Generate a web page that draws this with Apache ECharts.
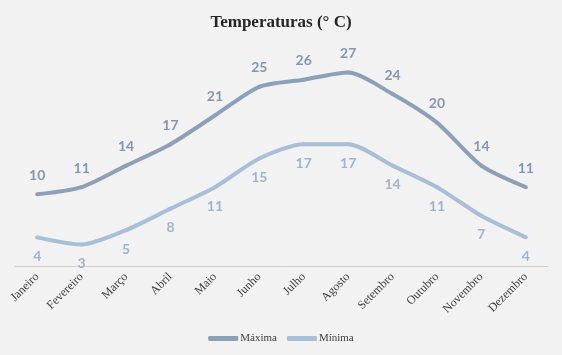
<!DOCTYPE html>
<html><head><meta charset="utf-8">
<script src="https://cdn.jsdelivr.net/npm/echarts@6/dist/echarts.min.js"></script>
<style>html,body{margin:0;padding:0;background:#f2f2f2}#c{width:562px;height:355px}</style>
</head><body><div id="c"></div>
<script>
const categories = ["Janeiro","Fevereiro","Março","Abril","Maio","Junho","Julho","Agosto","Setembro","Outubro","Novembro","Dezembro"];
const maxima = [10,11,14,17,21,25,26,27,24,20,14,11];
const minima = [4,3,5,8,11,15,17,17,14,11,7,4];
const seriesNames = ["Máxima","Mínima"];

const chart = echarts.init(document.getElementById('c'));
chart.setOption({
  backgroundColor:'#f2f2f2',
  animation:false,
  title:{text:'Temperaturas (° C)',left:'center',top:9,
    textStyle:{fontFamily:'Liberation Serif',fontSize:17,fontWeight:'bold',color:'#262626'}},
  grid:{left:15,right:14,top:51,bottom:89},
  legend:{bottom:6,left:'center',itemWidth:30,itemHeight:5,itemGap:10,
    icon:'roundRect',
    textStyle:{fontFamily:'Liberation Serif',fontSize:11,color:'#404040',padding:[0,0,0,-3]},
    data:seriesNames},
  xAxis:{type:'category',data:categories,boundaryGap:true,
    axisLine:{lineStyle:{color:'#d0d0d0',width:1}},axisTick:{show:false},
    axisLabel:{rotate:45,interval:0,fontFamily:'Liberation Serif',fontSize:12,color:'#404040',margin:9}},
  yAxis:{type:'value',min:0,max:30,show:false,splitLine:{show:false}},
  series:[
    {name:seriesNames[0],type:'line',data:maxima,smooth:0.25,symbol:'circle',symbolSize:4,showSymbol:true,
     lineStyle:{width:4,color:'#8da1b6'},itemStyle:{color:'#8da1b6'},
     label:{show:true,position:'top',distance:10,fontFamily:'Lato',fontWeight:'bold',fontSize:14,color:'#8497b0'}},
    {name:seriesNames[1],type:'line',data:minima,smooth:0.25,symbol:'circle',symbolSize:4,showSymbol:true,
     lineStyle:{width:4,color:'#a9bfd6'},itemStyle:{color:'#a9bfd6'},
     label:{show:true,position:'bottom',distance:10,fontFamily:'Lato',fontWeight:'bold',fontSize:14,color:'#9db5d1'}}
  ]
});
</script></body></html>
